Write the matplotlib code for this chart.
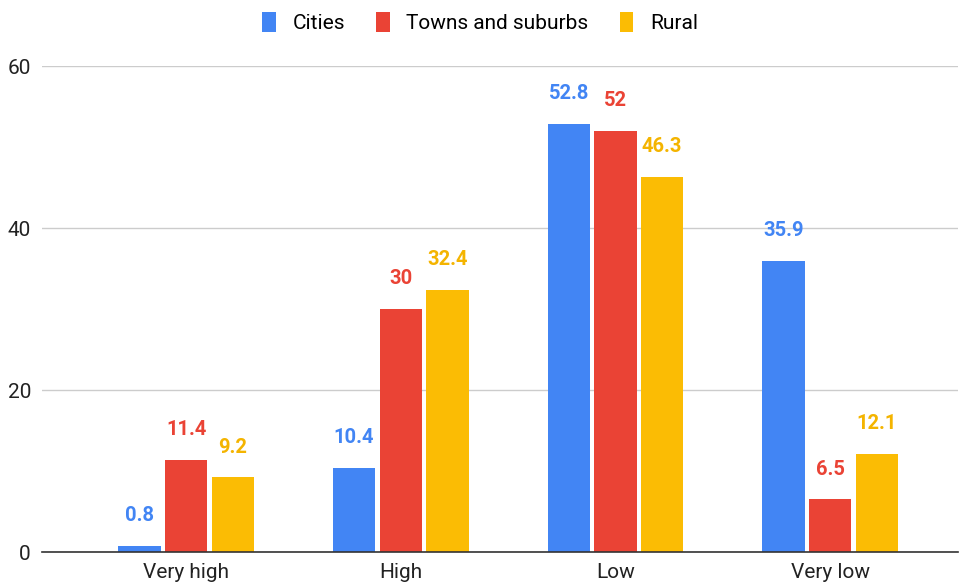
import numpy as np
import matplotlib
matplotlib.use('Agg')
import matplotlib.pyplot as plt

plt.rcParams['font.family'] = ['Roboto', 'DejaVu Sans']

categories = ['Very high', 'High', 'Low', 'Very low']
series = ['Cities', 'Towns and suburbs', 'Rural']
cities = [0.8, 10.4, 52.8, 35.9]
towns = [11.4, 30, 52, 6.5]
rural = [9.2, 32.4, 46.3, 12.1]
colors = ['#4285F4', '#EA4335', '#FBBC04']
label_colors = ['#4285F4', '#EA4335', '#F4B400']

fig = plt.figure(figsize=(9.6, 5.86), dpi=100)
ax = fig.add_axes([42 / 960, 34 / 586, 916 / 960, 486 / 586])

x = np.arange(len(categories))
step = 0.2175
width = 0.198

for k, (vals, name) in enumerate(zip([cities, towns, rural], series)):
    pos = x + (k - 1) * step
    ax.bar(pos, vals, width, color=colors[k], label=name, zorder=3)
    for px, v in zip(pos, vals):
        ax.annotate(f'{v:g}', (px, v), xytext=(0, 15), textcoords='offset points',
                    ha='center', va='bottom', fontsize=14.5, fontweight='bold',
                    color=label_colors[k], annotation_clip=False)

ax.set_xlim(-0.671, 3.595)
ax.set_ylim(0, 60)
ax.set_yticks([0, 20, 40, 60])
ax.set_xticks(x)
ax.set_xticklabels(categories)
ax.yaxis.grid(True, color='#cccccc', linewidth=1, zorder=0)
ax.tick_params(axis='both', length=0, labelsize=15, colors='#222222')
ax.tick_params(axis='y', pad=8)
ax.tick_params(axis='x', pad=8)
for s in ['top', 'right', 'left']:
    ax.spines[s].set_visible(False)
ax.spines['bottom'].set_color('#333333')
ax.spines['bottom'].set_linewidth(1.2)
ax.spines['bottom'].set_zorder(4)

fig.legend(loc='upper center', bbox_to_anchor=(0.5, 1.012), ncol=3, frameon=False,
           fontsize=15, handlelength=0.65, handleheight=1.1, columnspacing=1.5,
           handletextpad=0.8)

fig.savefig('out.png', dpi=100)
